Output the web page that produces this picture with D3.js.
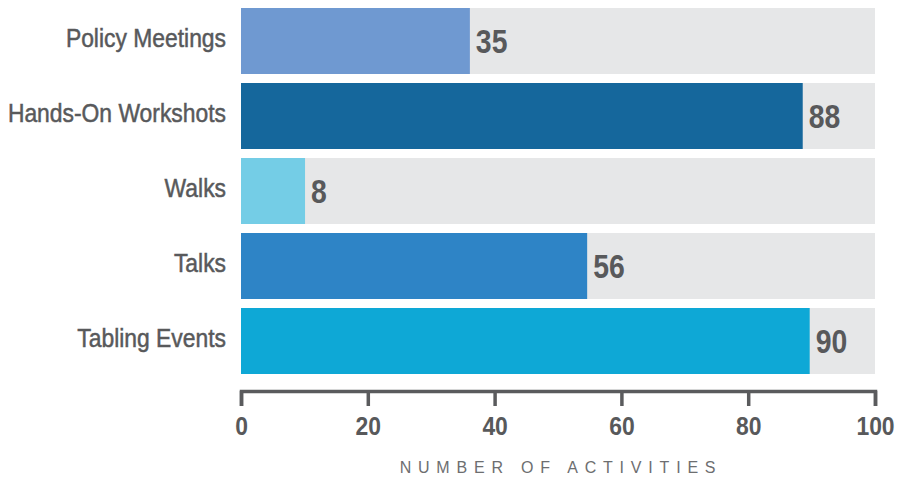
<!DOCTYPE html>
<html>
<head>
<meta charset="utf-8">
<script src="https://cdn.jsdelivr.net/npm/d3@7"></script>
<style>
  body { margin: 0; background: #fff; }
  text { font-family: "Liberation Sans", Arial, sans-serif; fill: #58595b; }
</style>
</head>
<body>
<div id="canvas"></div>
<script>
const categories = ["Policy Meetings", "Hands-On Workshots", "Walks", "Talks", "Tabling Events"];
// bar lengths as drawn
const barValues = [36.1, 88.6, 10.1, 54.6, 89.7];
// numbers printed beside the bars
const valueLabels = ["35", "88", "8", "56", "90"];
const barColors = ["#6f99d1", "#15679c", "#74cde6", "#2e84c6", "#0ea8d6"];
const xTicks = [0, 20, 40, 60, 80, 100];

const width = 897;
const height = 478;
const narrow = 0.88; // no condensed font installed, squeeze horizontally

const svg = d3.select("#canvas")
  .append("svg")
  .attr("width", width)
  .attr("height", height);

const x = d3.scaleLinear()
  .domain([0, 100])
  .range([241, 875]);

const y = d3.scaleBand()
  .domain(categories)
  .range([3.5, 378.5])
  .paddingInner(0.12)
  .paddingOuter(0.06);

const rows = svg.selectAll("g.row")
  .data(categories)
  .enter()
  .append("g")
  .attr("class", "row");

// gray track behind each bar
rows.append("rect")
  .attr("x", x(0))
  .attr("y", d => y(d))
  .attr("width", x(100) - x(0))
  .attr("height", y.bandwidth())
  .style("fill", "#e6e7e8");

rows.append("rect")
  .attr("x", x(0))
  .attr("y", d => y(d))
  .attr("width", (d, i) => x(barValues[i]) - x(0))
  .attr("height", y.bandwidth())
  .style("fill", (d, i) => barColors[i]);

rows.append("text")
  .attr("transform", (d, i) => `translate(${x(barValues[i]) + 6},${y(d) + y.bandwidth() / 2}) scale(0.86,1)`)
  .attr("dy", "0.36em")
  .style("font-size", "33px")
  .style("font-weight", "bold")
  .text((d, i) => valueLabels[i]);

rows.append("text")
  .attr("transform", d => `translate(226,${y(d) + y.bandwidth() / 2}) scale(${narrow},1)`)
  .attr("dy", "0.22em")
  .attr("text-anchor", "end")
  .style("font-size", "26px")
  .style("stroke", "#58595b")
  .style("stroke-width", 0.5)
  .text(d => d);

// x axis
const axis = svg.append("g")
  .attr("transform", "translate(0, 391)")
  .call(d3.axisBottom(x).tickValues(xTicks).tickSize(15).tickSizeOuter(15).tickPadding(11));

axis.select(".domain")
  .attr("stroke", "#5a5b5d")
  .attr("stroke-width", 3.5);

axis.selectAll(".tick line")
  .attr("stroke", "#5a5b5d")
  .attr("stroke-width", 3.5);

axis.selectAll(".tick text")
  .attr("transform", "scale(0.88,1)")
  .style("font-size", "26px")
  .style("font-weight", "bold")
  .style("fill", "#58595b");

svg.append("text")
  .attr("x", (x(0) + x(100)) / 2)
  .attr("dx", 3)
  .attr("y", 473)
  .attr("text-anchor", "middle")
  .style("font-size", "16px")
  .style("letter-spacing", "6.8px")
  .style("fill", "#6d6e70")
  .text("NUMBER OF ACTIVITIES");
</script>
</body>
</html>
